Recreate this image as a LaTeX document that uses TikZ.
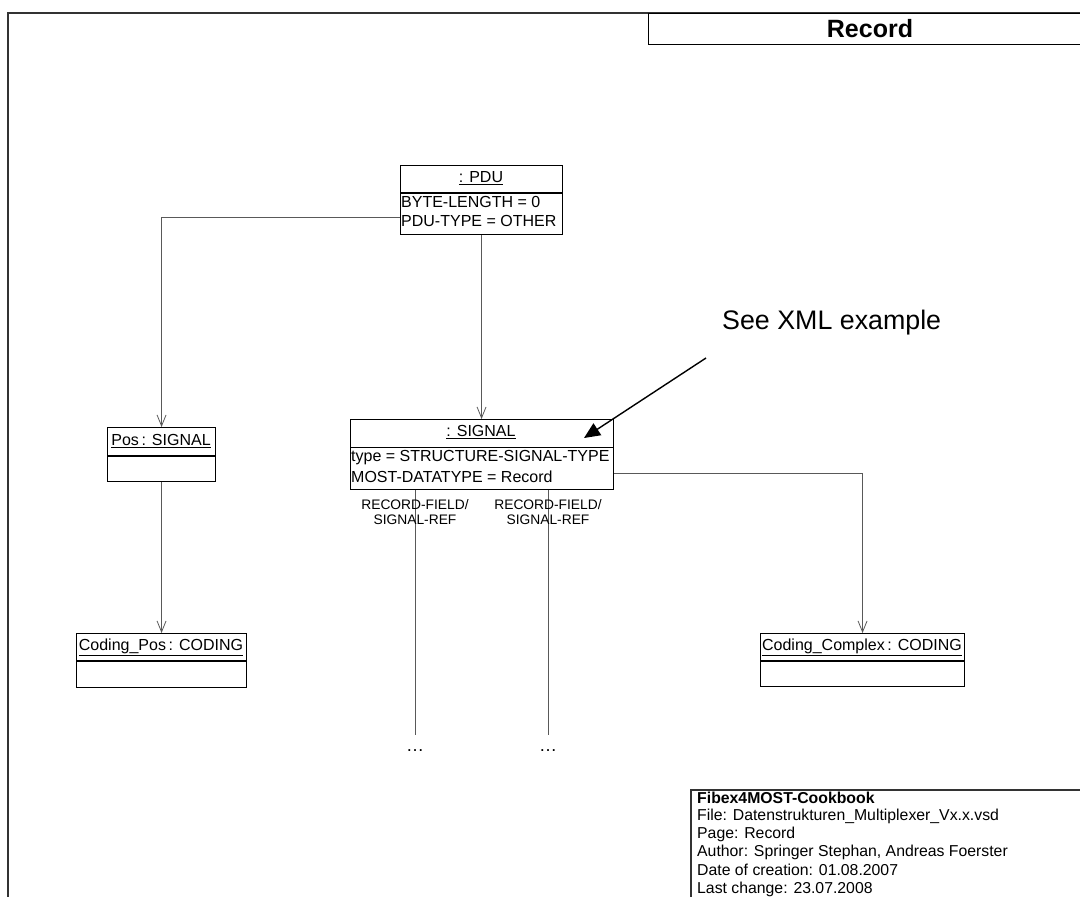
\documentclass[tikz,border=0pt]{standalone}
\usepackage{fontspec}
\setmainfont{Liberation Sans}
\usetikzlibrary{arrows.meta}
\begin{document}
\begin{tikzpicture}[x=1pt,y=-1pt,
  box/.style={draw=black,line width=1.1pt,rectangle,inner sep=0pt},
  divider/.style={draw=black,line width=1.1pt},
  conn/.style={draw=black!65,line width=0.9pt},
  opentip/.style={-{Straight Barb[length=11pt,width=9pt,line width=0.8pt]}},
  txt/.style={inner sep=0pt,font=\fontsize{16}{19}\selectfont},
  lbl/.style={inner sep=0pt,align=center,font=\fontsize{13.8}{15}\selectfont},
  foot/.style={inner sep=0pt,anchor=west,font=\fontsize{15.8}{18}\selectfont},
  frame/.style={draw=black!80,line width=1.4pt}]
\useasboundingbox (0,0) rectangle (1080,897);
% page frame
\draw[frame] (8,897) -- (8,13) -- (1080,13);
% title
\node[box,anchor=north west,minimum width=440pt,minimum height=31pt] (title) at (648,13) {};
\node[inner sep=0pt,font=\fontsize{25}{28}\bfseries\selectfont] (titletxt) at (870,29) {Record};
% PDU
\node[box,anchor=north west,minimum width=162pt,minimum height=69pt] (pdu) at (400,165) {};
\draw[divider] (400,193) -- (562,193);
\node[txt] (pduh) at (481,178) {\underline{: PDU}};
\node[txt,anchor=west] (pdua) at (401,202) {BYTE-LENGTH = 0};
\node[txt,anchor=west] (pdub) at (401,221) {PDU-TYPE = OTHER};
% SIGNAL
\node[box,anchor=north west,minimum width=263pt,minimum height=70pt] (sig) at (350,419) {};
\draw[divider] (350,447.5) -- (613,447.5);
\node[txt] (sigh) at (481,432) {\underline{: SIGNAL}};
\node[txt,anchor=west] (siga) at (351,458) {type = STRUCTURE-SIGNAL-TYPE};
\node[txt,anchor=west] (sigb) at (351,477) {MOST-DATATYPE = Record};
% Pos : SIGNAL
\node[box,anchor=north west,minimum width=108pt,minimum height=54pt] (pos) at (107,427) {};
\draw[divider] (107,456) -- (215,456);
\node[txt] (posh) at (161,441) {\underline{Pos\,: SIGNAL}};
% Coding_Pos
\node[box,anchor=north west,minimum width=170pt,minimum height=54pt] (cpos) at (76,633) {};
\draw[divider] (76,661) -- (246,661);
\node[txt] (cposh) at (161,647) {\underline{Coding\_Pos\,: CODING}};
% Coding_Complex
\node[box,anchor=north west,minimum width=204pt,minimum height=53pt] (ccx) at (760,633) {};
\draw[divider] (760,661) -- (964,661);
\node[txt] (ccxh) at (862,647) {\underline{Coding\_Complex\,: CODING}};
% connectors
\draw[conn,opentip] ([yshift=-17.5pt]pdu.west) -| (pos.north);
\draw[conn,opentip] (pdu.south) -- (pdu.south |- sig.north);
\draw[conn,opentip] (pos.south) -- (pos.south |- cpos.north);
\draw[conn,opentip] ([yshift=-18.5pt]sig.east) -| (ccx.north);
% record field lines
\coordinate (e1) at (415,735);
\coordinate (e2) at (548,735);
\draw[conn] (sig.south -| e1) -- (e1);
\draw[conn] (sig.south -| e2) -- (e2);
\node[lbl] (l1) at (415,512) {RECORD-FIELD/\\SIGNAL-REF};
\node[lbl] (l2) at (548,512) {RECORD-FIELD/\\SIGNAL-REF};
\node[txt,font=\fontsize{18}{20}\selectfont] (d1) at (415,751) {\dots};
\node[txt,font=\fontsize{18}{20}\selectfont] (d2) at (548,751) {\dots};
% note
\node[inner sep=0pt,anchor=west,font=\fontsize{26.8}{30}\selectfont] (note) at (722,323) {See XML example};
\coordinate (nstart) at (706,358);
\coordinate (nend) at (584,438);
\draw[line width=1.4pt,-{Triangle[length=16pt,width=14pt]}] (nstart) -- (nend);
% footer
\draw[frame,line width=1.1pt] (691,897) -- (691,790) -- (1080,790);
\node[foot,font=\fontsize{15.8}{18}\bfseries\selectfont] (f0) at (697,798) {Fibex4MOST-Cookbook};
\node[foot] (f1) at (697,816) {File: Datenstrukturen\_Multiplexer\_Vx.x.vsd};
\node[foot] (f2) at (697,834) {Page: Record};
\node[foot] (f3) at (697,852) {Author: Springer Stephan, Andreas Foerster};
\node[foot] (f4) at (697,870) {Date of creation: 01.08.2007};
\node[foot] (f5) at (697,889) {Last change: 23.07.2008};
\end{tikzpicture}
\end{document}
